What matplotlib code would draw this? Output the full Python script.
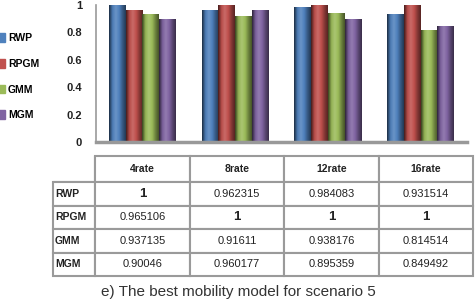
import numpy as np
import matplotlib.pyplot as plt
from matplotlib.patches import Patch
from matplotlib.colors import LinearSegmentedColormap, to_rgb

plt.rcParams['font.family'] = ['Liberation Sans', 'DejaVu Sans']

rates = ['4rate', '8rate', '12rate', '16rate']
models = ['RWP', 'RPGM', 'GMM', 'MGM']
rwp = [1, 0.962315, 0.984083, 0.931514]
rpgm = [0.965106, 1, 1, 1]
gmm = [0.937135, 0.91611, 0.938176, 0.814514]
mgm = [0.90046, 0.960177, 0.895359, 0.849492]
cell_text = [['1', '0.962315', '0.984083', '0.931514'],
             ['0.965106', '1', '1', '1'],
             ['0.937135', '0.91611', '0.938176', '0.814514'],
             ['0.90046', '0.960177', '0.895359', '0.849492']]

colors = ['#4F81BD', '#C0504D', '#9BBB59', '#8064A2']


def shade(c, f):
    r = np.array(to_rgb(c))
    if f < 1:
        return tuple(r * f)
    return tuple(r + (1 - r) * (f - 1))


fig = plt.figure(figsize=(4.76, 3.06), dpi=100)

# bar chart
ax = fig.add_axes([96/476, 1-142/306, 371/476, 137/306])
x = np.arange(len(rates))
w = 0.18
grad = np.linspace(0, 1, 64).reshape(1, -1)
for i, vals in enumerate([rwp, rpgm, gmm, mgm]):
    bars = ax.bar(x + (i - 1.5)*w, vals, w, color=colors[i], edgecolor='none')
    cmap = LinearSegmentedColormap.from_list(
        'b%d' % i, [shade(colors[i], 0.35), shade(colors[i], 0.95), shade(colors[i], 1.15),
                    colors[i], shade(colors[i], 0.7), shade(colors[i], 0.45)])
    for b in bars:
        bx, by = b.get_x(), b.get_y()
        im = ax.imshow(grad, cmap=cmap, aspect='auto', interpolation='bilinear',
                       extent=[bx, bx + b.get_width(), by, by + b.get_height()], zorder=2)
        im.set_clip_path(b)
ax.set_xlim(-0.5, 3.5)
ax.set_ylim(0, 1)
ax.set_yticks([0, 0.2, 0.4, 0.6, 0.8, 1])
ax.set_yticklabels(['0', '0.2', '0.4', '0.6', '0.8', '1'], fontsize=8, fontweight='bold', color='#222222')
ax.set_xticks([])
for s in ['top', 'right']:
    ax.spines[s].set_visible(False)
ax.spines['left'].set_color('#999999')
ax.spines['left'].set_linewidth(1.2)
ax.spines['bottom'].set_color('#999999')
ax.spines['bottom'].set_linewidth(2.5)
ax.spines['bottom'].set_zorder(3)
ax.tick_params(axis='y', length=0, pad=10)

handles = [Patch(facecolor=c, edgecolor=c) for c in colors]
fig.legend(handles, models, loc='upper left', bbox_to_anchor=(-0.025, 1-24/306),
           frameon=False, prop={'weight': 'bold', 'size': 7.5},
           handlelength=0.7, handleheight=0.9, handletextpad=0.3, labelspacing=1.5)

# data table
tax = fig.add_axes([53/476, 1-276/306, 420/476, 120/306])
tax.axis('off')
rows = [[''] + rates] + [[m] + r for m, r in zip(models, cell_text)]
tbl = tax.table(cellText=rows, bbox=[0, 0, 1, 1], cellLoc='center',
                colWidths=[42, 94, 94, 94, 94])
tbl.auto_set_font_size(False)
for (r, c), cell in tbl.get_celld().items():
    cell.set_edgecolor('#9a9a9a')
    cell.set_linewidth(1.5)
    cell.set_height(26 if r == 0 else 23.5)
    cell.get_text().set_fontsize(8)
    cell.get_text().set_color('#222222')
    if c == 0 or r == 0:
        cell.get_text().set_fontweight('bold')
        cell.get_text().set_fontsize(7.5)
    if c == 0:
        cell.get_text().set_ha('left')
        cell.PAD = 0.05
    if r == 0 and c == 0:
        cell.visible_edges = 'BR'
    if r > 0 and rows[r][c] == '1':
        cell.get_text().set_fontsize(9.5)
        cell.get_text().set_fontweight('bold')

fig.text(0.5, 1-292/306, 'e) The best mobility model for scenario 5',
         ha='center', va='center', fontsize=11, color='#333333')

fig.savefig('out.png', dpi=100)
